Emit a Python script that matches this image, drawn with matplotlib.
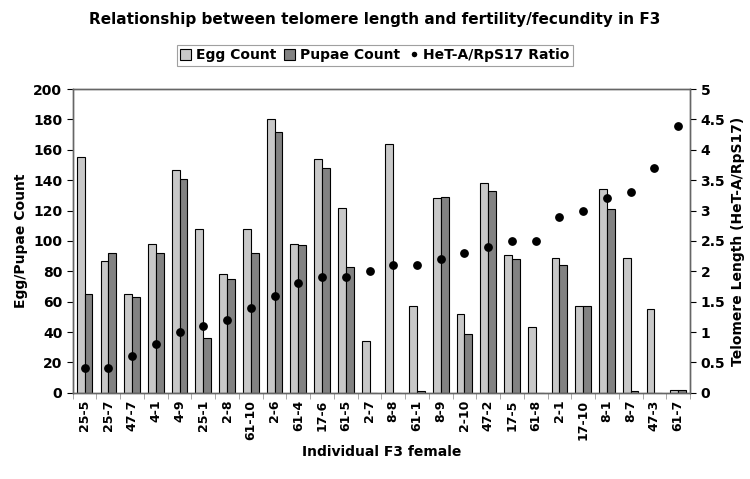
import matplotlib
matplotlib.use("Agg")
import matplotlib.pyplot as plt
import numpy as np
from matplotlib.lines import Line2D
from matplotlib.patches import Patch

females = ["25-5", "25-7", "47-7", "4-1", "4-9", "25-1", "2-8", "61-10", "2-6", "61-4",
           "17-6", "61-5", "2-7", "8-8", "61-1", "8-9", "2-10", "47-2", "17-5", "61-8",
           "2-1", "17-10", "8-1", "8-7", "47-3", "61-7"]
egg_count = [155, 87, 65, 98, 147, 108, 78, 108, 180, 98, 154, 122, 34, 164, 57, 128,
             52, 138, 91, 43, 89, 57, 134, 89, 55, 2]
pupae_count = [65, 92, 63, 92, 141, 36, 75, 92, 172, 97, 148, 83, 0, 0, 1, 129,
               39, 133, 88, 0, 84, 57, 121, 1, 0, 2]
ratio = [0.4, 0.4, 0.6, 0.8, 1.0, 1.1, 1.2, 1.4, 1.6, 1.8, 1.9, 1.9, 2.0, 2.1, 2.1, 2.2,
         2.3, 2.4, 2.5, 2.5, 2.9, 3.0, 3.2, 3.3, 3.7, 4.4]

plt.rcParams["font.family"] = "DejaVu Sans"
plt.rcParams["font.weight"] = "bold"

fig = plt.figure(figsize=(7.5, 4.79), dpi=100)
ax = fig.add_axes([0.097, 0.180, 0.823, 0.634])
ax2 = ax.twinx()

x = np.arange(len(females))
w = 0.33
ax.bar(x - w / 2, egg_count, w, color="#c8c8c8", edgecolor="black", lw=0.8, zorder=2)
ax.bar(x + w / 2, pupae_count, w, color="#828282", edgecolor="black", lw=0.8, zorder=2)
ax2.scatter(x, ratio, s=28, color="black", zorder=3)

ax.set_xlim(-0.5, len(females) - 0.5)
ax.set_ylim(0, 200)
ax.set_yticks(range(0, 201, 20))
ax2.set_ylim(0, 5)
ax2.set_yticks(np.arange(0, 5.01, 0.5))
ax2.set_yticklabels(["0", "0.5", "1", "1.5", "2", "2.5", "3", "3.5", "4", "4.5", "5"])

ax.set_xticks(x)
ax.set_xticklabels(females, rotation=90, fontsize=9, fontweight="bold")
ax.tick_params(axis="x", length=0, pad=5)
ax.set_xticks(np.arange(-0.5, len(females), 1), minor=True)
ax.tick_params(axis="x", which="minor", length=4, color="#999999")
ax.tick_params(axis="y", labelsize=10, length=4)
ax2.tick_params(axis="y", labelsize=10, length=4)

for a in (ax, ax2):
    for s in a.spines.values():
        s.set_color("#666666")
        s.set_linewidth(1.0)

ax.set_ylabel("Egg/Pupae Count", fontsize=10, fontweight="bold")
ax2.set_ylabel("Telomere Length (HeT-A/RpS17)", fontsize=10, fontweight="bold")
ax.set_xlabel("Individual F3 female", fontsize=10, fontweight="bold")

fig.suptitle("Relationship between telomere length and fertility/fecundity in F3",
             fontsize=11, fontweight="bold", y=0.975)

handles = [
    Patch(facecolor="#c8c8c8", edgecolor="black", lw=0.8, label="Egg Count"),
    Patch(facecolor="#828282", edgecolor="black", lw=0.8, label="Pupae Count"),
    Line2D([0], [0], marker="o", color="w", markerfacecolor="black", markersize=5,
           label="HeT-A/RpS17 Ratio"),
]
leg = fig.legend(handles=handles, loc="center", bbox_to_anchor=(0.5, 0.885), ncol=3,
                 fontsize=10, frameon=True, fancybox=False, handlelength=0.8,
                 handleheight=0.8, handletextpad=0.3, columnspacing=0.6,
                 borderpad=0.25)
leg.get_frame().set_edgecolor("#888888")
leg.get_frame().set_linewidth(0.8)

fig.savefig("out.png", dpi=100)
